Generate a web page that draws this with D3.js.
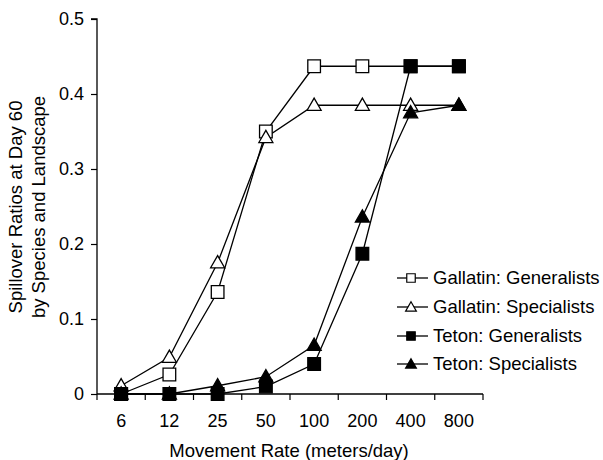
<!DOCTYPE html>
<html><head><meta charset="utf-8">
<script src="https://cdn.jsdelivr.net/npm/d3@7"></script>
<style>body{margin:0;background:#fff}</style>
</head><body>
<svg id="c" width="603" height="460"></svg>
<script>
const categories = ["6","12","25","50","100","200","400","800"];
const yTicks = [0, 0.1, 0.2, 0.3, 0.4, 0.5];
const gallatinGeneralists = [0, 0.026, 0.136, 0.35, 0.437, 0.437, 0.437, 0.437];
const gallatinSpecialists = [0.011, 0.049, 0.175, 0.342, 0.385, 0.385, 0.385, 0.385];
const tetonGeneralists = [0, 0, 0, 0.01, 0.04, 0.187, 0.437, 0.437];
const tetonSpecialists = [0, 0, 0.011, 0.023, 0.065, 0.236, 0.375, 0.385];
const seriesNames = ["Gallatin: Generalists","Gallatin: Specialists","Teton: Generalists","Teton: Specialists"];

(function () {
const series = [
  {name: seriesNames[0], values: gallatinGeneralists, shape: "square", fill: "#fff"},
  {name: seriesNames[1], values: gallatinSpecialists, shape: "triangle", fill: "#fff"},
  {name: seriesNames[2], values: tetonGeneralists, shape: "square", fill: "#000"},
  {name: seriesNames[3], values: tetonSpecialists, shape: "triangle", fill: "#000"}
];

const svg = d3.select("#c");
const pLeft = 97, pRight = 483, pTop = 19, pBottom = 394;
const x = d3.scaleBand().domain(categories).range([pLeft, pRight]).padding(0);
const xEdge = d3.scaleLinear().domain([0, categories.length]).range([pLeft, pRight]);
const y = d3.scaleLinear().domain([0, 0.5]).range([pBottom, pTop]);
const font = "'Liberation Sans', Arial, sans-serif";
const fs = 18, fsL = 18.5;

// y axis
const yAxis = svg.append("g").attr("transform", `translate(${pLeft},0)`)
  .call(d3.axisLeft(y).tickValues(yTicks).tickSize(6).tickPadding(7)
    .tickFormat(d => d === 0 ? "0" : d3.format(".1f")(d)));
yAxis.select(".domain").attr("stroke", "#000").attr("stroke-width", 1.3).attr("d", `M-6,${pTop}H0V${pBottom}`);
yAxis.selectAll(".tick line").attr("stroke", "#000").attr("stroke-width", 1.2);
yAxis.selectAll(".tick text").attr("font-family", font).attr("font-size", fs).attr("fill", "#000");

// x axis
const xAxis = svg.append("g").attr("transform", `translate(0,${pBottom})`)
  .call(d3.axisBottom(x).tickSize(0).tickPadding(20));
xAxis.select(".domain").attr("stroke", "#000").attr("stroke-width", 1.3).attr("d", `M${pLeft},0H${pRight}`);
xAxis.selectAll(".tick text").attr("font-family", font).attr("font-size", fs).attr("fill", "#000");
xAxis.selectAll(".edge").data(d3.range(categories.length + 1)).enter().append("line")
  .attr("class", "edge")
  .attr("x1", i => xEdge(i)).attr("x2", i => xEdge(i))
  .attr("y1", 0).attr("y2", 6).attr("stroke", "#000").attr("stroke-width", 1.2);

// titles
svg.append("text").attr("x", 289).attr("y", 457).attr("text-anchor", "middle")
  .attr("font-family", font).attr("font-size", fsL).text("Movement Rate (meters/day)");
const yt = svg.append("text").attr("transform", "translate(22,207) rotate(-90)")
  .attr("text-anchor", "middle").attr("font-family", font).attr("font-size", fsL);
yt.append("tspan").attr("x", 0).attr("dy", 0).text("Spillover Ratios at Day 60");
yt.append("tspan").attr("x", 0).attr("dy", 23).text("by Species and Landscape");

const line = d3.line().x((d, i) => x(categories[i]) + x.bandwidth() / 2).y(d => y(d));
const sym = (shape, size) => d3.symbol().type(shape === "square" ? d3.symbolSquare : d3.symbolTriangle).size(size)();

series.forEach(s => {
  svg.append("path").attr("d", line(s.values)).attr("fill", "none")
    .attr("stroke", "#000").attr("stroke-width", 1.3);
});
series.forEach(s => {
  svg.append("g").selectAll("path").data(s.values).enter().append("path")
    .attr("transform", (d, i) => `translate(${x(categories[i]) + x.bandwidth() / 2},${y(d) + (s.shape === "triangle" ? 1 : 0)})`)
    .attr("d", sym(s.shape, s.shape === "square" ? 160 : 85))
    .attr("fill", s.fill).attr("stroke", "#000").attr("stroke-width", 1.3);
});

// legend
const legY = [278, 307, 336, 364];
series.forEach((s, i) => {
  const g = svg.append("g").attr("transform", `translate(0,${legY[i]})`);
  g.append("line").attr("x1", 397).attr("x2", 428).attr("y1", 0).attr("y2", 0)
    .attr("stroke", "#000").attr("stroke-width", 1.3);
  g.append("path").attr("transform", `translate(411,${s.shape === "triangle" ? 1 : 0})`)
    .attr("d", sym(s.shape, s.shape === "square" ? 72 : 50))
    .attr("fill", s.fill).attr("stroke", "#000").attr("stroke-width", 1.2);
  g.append("text").attr("x", 433).attr("y", 0).attr("dy", "0.35em")
    .attr("font-family", font).attr("font-size", fsL).text(s.name);
});
})();
</script>
</body></html>
